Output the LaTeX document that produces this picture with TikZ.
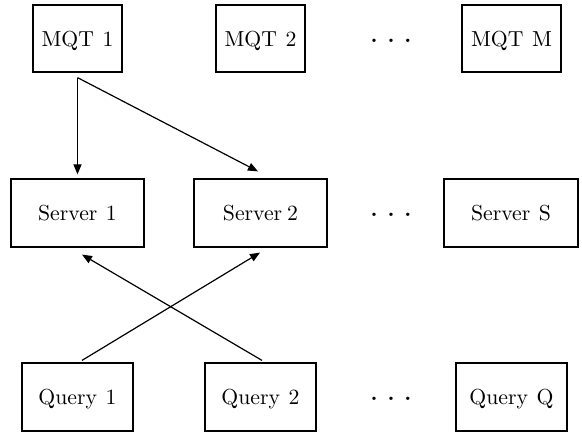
\documentclass[tikz,border=0pt]{standalone}
\usetikzlibrary{arrows.meta}
\newcommand\wsp{\hspace{4.3bp}}
\newcommand\rowdots{\raisebox{2bp}{\bfseries.\hspace{5bp}.\hspace{5bp}.}}
\begin{document}
\begin{tikzpicture}[x=0.5bp,y=-0.5bp,
  every node/.style={font=\fontsize{10.9}{12}\selectfont, inner sep=0pt,
    text height=8bp, text depth=0pt},
  box/.style={draw, line width=0.6bp, minimum height=34bp},
  mqtbox/.style={box, minimum width=44.5bp, minimum height=33.5bp},
  srvbox/.style={box, minimum width=66.5bp},
  qrybox/.style={box, minimum width=55.5bp},
  conn/.style={line width=0.6bp, -{Triangle[length=5bp,width=4bp]}}]
\useasboundingbox (0,0) rectangle (582,433);
% top row
\node[mqtbox] (m1) at (77.5,38.5) {MQT\wsp1};
\node[mqtbox] (m2) at (260.5,38.5) {MQT\wsp2};
\node (md) at (391,38.5) {\rowdots};
\node[mqtbox, minimum width=49.5bp] (mm) at (511.5,38.5) {MQT\wsp M};
% middle row
\node[srvbox] (s1) at (77.5,213) {Server\wsp1};
\node[srvbox] (s2) at (260.5,213) {Server\hspace{2.5bp}2};
\node (sd) at (391,213) {\rowdots};
\node[srvbox, minimum width=67bp] (ss) at (511,213) {Server\wsp S};
% bottom row
\node[qrybox] (q1) at (77.5,397) {Query\wsp1};
\node[qrybox] (q2) at (260.5,397) {Query\wsp2};
\node (qd) at (391,397) {\rowdots};
\node[qrybox] (qq) at (511.5,397) {Query\wsp Q};
% connectors
\coordinate (m1o) at ([yshift=-2.5bp]m1.south);
\draw[conn] (m1o) -- ([yshift=2bp]s1.north);
\draw[conn] (m1o) -- ([xshift=-1.25bp,yshift=3.5bp]s2.north);
\draw[conn] ([xshift=0.75bp,yshift=1bp]q2.north) -- ([xshift=2.25bp,yshift=-3.5bp]s1.south);
\draw[conn] ([xshift=2.25bp,yshift=1bp]q1.north) -- ([xshift=-0.25bp,yshift=-2.5bp]s2.south);
\end{tikzpicture}
\end{document}
